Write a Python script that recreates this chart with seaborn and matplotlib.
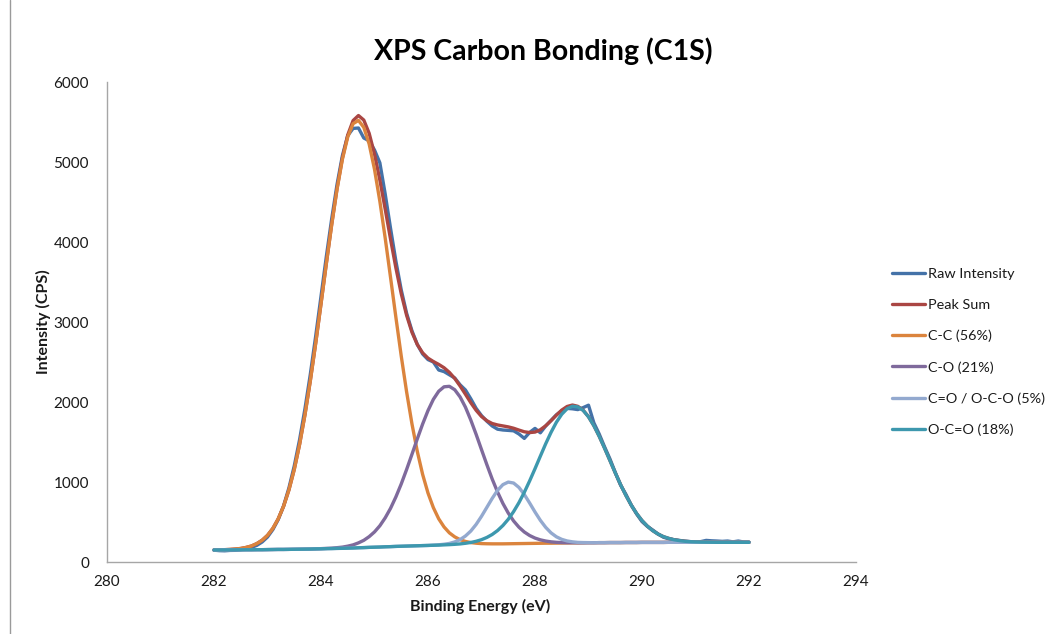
import matplotlib
matplotlib.use("Agg")
import matplotlib.pyplot as plt
import seaborn as sns
from matplotlib.lines import Line2D

# ---------------- data ----------------
energy = [
    282.0, 282.1, 282.2, 282.3, 282.4, 282.5, 282.6, 282.7, 282.8, 282.9,
    283.0, 283.1, 283.2, 283.3, 283.4, 283.5, 283.6, 283.7, 283.8, 283.9,
    284.0, 284.1, 284.2, 284.3, 284.4, 284.5, 284.6, 284.7, 284.8, 284.9,
    285.0, 285.1, 285.2, 285.3, 285.4, 285.5, 285.6, 285.7, 285.8, 285.9,
    286.0, 286.1, 286.2, 286.3, 286.4, 286.5, 286.6, 286.7, 286.8, 286.9,
    287.0, 287.1, 287.2, 287.3, 287.4, 287.5, 287.6, 287.7, 287.8, 287.9,
    288.0, 288.1, 288.2, 288.3, 288.4, 288.5, 288.6, 288.7, 288.8, 288.9,
    289.0, 289.1, 289.2, 289.3, 289.4, 289.5, 289.6, 289.7, 289.8, 289.9,
    290.0, 290.1, 290.2, 290.3, 290.4, 290.5, 290.6, 290.7, 290.8, 290.9,
    291.0, 291.1, 291.2, 291.3, 291.4, 291.5, 291.6, 291.7, 291.8, 291.9,
    292.0,
]

raw_intensity = [
    148, 142, 140, 145, 146, 155, 168, 182, 208, 250,
    312, 405, 530, 700, 925, 1200, 1530, 1915, 2345, 2820,
    3320, 3820, 4290, 4720, 5080, 5330, 5420, 5425, 5300, 5265,
    5150, 4990, 4600, 4170, 3760, 3400, 3110, 2890, 2720, 2600,
    2530, 2500, 2400, 2380, 2340, 2300, 2215, 2150, 2040, 1920,
    1830, 1760, 1700, 1660, 1650, 1645, 1640, 1600, 1545, 1620,
    1670, 1615, 1700, 1770, 1840, 1890, 1920, 1915, 1905, 1930,
    1960, 1740, 1600, 1440, 1290, 1120, 960, 845, 710, 600,
    505, 445, 400, 350, 310, 290, 278, 270, 260, 255,
    248, 255, 270, 265, 262, 258, 262, 252, 262, 250,
    248,
]

peak_sum = [
    151, 152, 154, 157, 162, 169, 182, 200, 230, 272,
    333, 420, 539, 696, 900, 1157, 1471, 1841, 2265, 2732,
    3229, 3734, 4222, 4670, 5049, 5338, 5518, 5581, 5524, 5359,
    5100, 4775, 4411, 4035, 3676, 3353, 3084, 2872, 2718, 2614,
    2548, 2506, 2470, 2428, 2370, 2294, 2200, 2097, 1991, 1896,
    1819, 1766, 1731, 1713, 1701, 1689, 1672, 1649, 1628, 1618,
    1624, 1653, 1703, 1767, 1836, 1899, 1944, 1962, 1946, 1898,
    1816, 1705, 1572, 1424, 1270, 1115, 967, 831, 710, 605,
    518, 448, 392, 349, 317, 295, 278, 267, 259, 254,
    251, 249, 248, 247, 246, 246, 246, 246, 246, 246,
    246,
]

cc_56 = [
    151, 152, 154, 157, 162, 169, 182, 200, 230, 272,
    333, 420, 539, 696, 900, 1157, 1471, 1841, 2265, 2732,
    3227, 3731, 4217, 4661, 5034, 5313, 5479, 5520, 5433, 5225,
    4909, 4509, 4049, 3556, 3057, 2574, 2127, 1727, 1382, 1094,
    862, 680, 540, 438, 364, 314, 279, 257, 243, 235,
    230, 228, 227, 227, 227, 228, 229, 230, 231, 232,
    233, 234, 235, 235, 236, 237, 238, 239, 239, 240,
    241, 241, 242, 242, 243, 243, 243, 244, 244, 244,
    245, 245, 245, 245, 245, 246, 246, 246, 246, 246,
    246, 246, 246, 246, 246, 246, 246, 246, 246, 246,
    246,
]

co_21 = [
    150, 150, 151, 151, 152, 152, 153, 153, 154, 154,
    155, 156, 157, 157, 158, 159, 160, 161, 162, 164,
    167, 170, 173, 179, 186, 198, 214, 239, 271, 317,
    376, 453, 552, 671, 814, 976, 1156, 1346, 1539, 1725,
    1893, 2033, 2134, 2190, 2196, 2153, 2063, 1935, 1774, 1595,
    1405, 1217, 1037, 875, 732, 612, 513, 435, 375, 331,
    299, 277, 262, 252, 246, 243, 241, 241, 240, 240,
    241, 241, 242, 242, 243, 243, 243, 244, 244, 244,
    245, 245, 245, 245, 245, 246, 246, 246, 246, 246,
    246, 246, 246, 246, 246, 246, 246, 246, 246, 246,
    246,
]

c_eq_o_5 = [
    150, 150, 151, 151, 152, 152, 153, 153, 154, 154,
    155, 156, 157, 157, 158, 159, 160, 161, 162, 164,
    165, 167, 168, 170, 171, 173, 175, 178, 180, 183,
    185, 187, 190, 192, 195, 197, 199, 201, 203, 205,
    207, 211, 215, 222, 232, 251, 280, 325, 387, 470,
    571, 683, 795, 896, 967, 999, 987, 932, 844, 737,
    625, 521, 433, 364, 315, 283, 263, 252, 245, 243,
    242, 241, 242, 242, 243, 243, 243, 244, 244, 244,
    245, 245, 245, 245, 245, 246, 246, 246, 246, 246,
    246, 246, 246, 246, 246, 246, 246, 246, 246, 246,
    246,
]

oco_18 = [
    150, 150, 151, 151, 152, 152, 153, 153, 154, 154,
    155, 156, 157, 157, 158, 159, 160, 161, 162, 164,
    165, 167, 168, 170, 171, 173, 175, 178, 180, 183,
    185, 187, 190, 192, 195, 197, 199, 201, 203, 205,
    207, 209, 211, 214, 217, 221, 226, 234, 244, 259,
    279, 307, 344, 393, 456, 534, 630, 742, 871, 1014,
    1166, 1323, 1478, 1621, 1747, 1847, 1916, 1947, 1939, 1895,
    1815, 1705, 1572, 1424, 1270, 1115, 967, 831, 710, 605,
    518, 448, 392, 349, 317, 295, 278, 267, 259, 254,
    251, 249, 248, 247, 246, 246, 246, 246, 246, 246,
    246,
]

series_names = ["Raw Intensity", "Peak Sum", "C-C (56%)", "C-O (21%)",
                "C=O / O-C-O (5%)", "O-C=O (18%)"]
series_values = [raw_intensity, peak_sum, cc_56, co_21, c_eq_o_5, oco_18]
series_colors = ["#4472A8", "#AA4643", "#DB843D", "#7F6A9C", "#93A9CF", "#3D98AE"]

x_ticks = [280, 282, 284, 286, 288, 290, 292, 294]
y_ticks = [0, 1000, 2000, 3000, 4000, 5000, 6000]

for nm, vals in zip(series_names, series_values):
    if len(vals) != len(energy):
        raise ValueError(f"{nm}: {len(vals)} values vs {len(energy)} energies")

# ---------------- drawing ----------------
sns.set_theme(style="white")
plt.rcParams['font.family'] = ['Lato', 'DejaVu Sans']

W, H = 1052, 634
fig = plt.figure(figsize=(W / 100, H / 100), dpi=100)
fig.patch.set_facecolor("white")
x0, x1, y0, y1 = 107, 856, 82, 562
ax = fig.add_axes([x0 / W, 1 - y1 / H, (x1 - x0) / W, (y1 - y0) / H])

for i, (nm, vals, col) in enumerate(zip(series_names, series_values, series_colors)):
    sns.lineplot(x=energy, y=vals, ax=ax, color=col, linewidth=2.4,
                 label=nm, estimator=None, sort=False, zorder=3 + i)

ax.set_xlim(280, 294)
ax.set_ylim(0, 6000)
ax.set_xticks(x_ticks)
ax.set_yticks(y_ticks)
ax.set_xticklabels([str(t) for t in x_ticks])
ax.set_yticklabels([str(t) for t in y_ticks])
ax.tick_params(axis="both", length=0, labelsize=11, colors="#1a1a1a")
ax.tick_params(axis="y", pad=13)
ax.tick_params(axis="x", pad=9)
for side in ["top", "right"]:
    ax.spines[side].set_visible(False)
for side in ["left", "bottom"]:
    ax.spines[side].set_color("#A6A6A6")
    ax.spines[side].set_linewidth(1.0)
ax.grid(False)

ax.set_xlabel("Binding Energy (eV)", fontsize=11.5, fontweight="bold", color="#1a1a1a")
ax.set_ylabel("Intensity (CPS)", fontsize=11.5, fontweight="bold", color="#1a1a1a")
ax.xaxis.set_label_coords((480 - x0) / (x1 - x0), (y1 - 599) / (y1 - y0))
ax.yaxis.set_label_coords((51 - x0) / (x1 - x0), 0.5)
ax.set_title("XPS Carbon Bonding (C1S)", fontsize=20.5, fontweight="bold",
             color="#000000", x=(543 - x0) / (x1 - x0), pad=16)

leg = ax.legend(loc="center left", bbox_to_anchor=(886 / W, 1 - 352 / H),
                bbox_transform=fig.transFigure, frameon=False,
                fontsize=10.4, handlelength=2.3, handletextpad=0.2,
                labelspacing=1.3, borderaxespad=0)
for line in leg.get_lines():
    line.set_linewidth(2.4)
for t in leg.get_texts():
    t.set_color("#1a1a1a")

fig.add_artist(Line2D([10 / W, 10 / W], [0, 1], transform=fig.transFigure,
                      color="#9A9A9A", linewidth=1.0))

fig.savefig("out.png", dpi=100, facecolor="white")
